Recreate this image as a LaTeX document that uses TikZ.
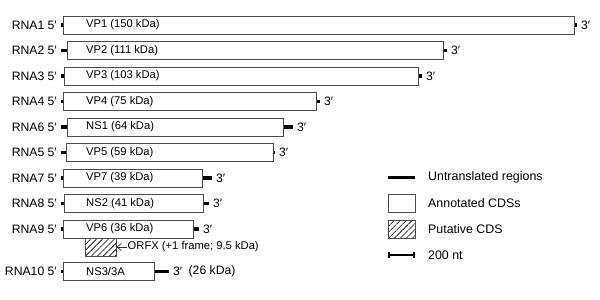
\documentclass[tikz,border=0pt]{standalone}
\usepackage{fontspec}
\setmainfont{Liberation Sans}
\usetikzlibrary{positioning, arrows.meta, patterns.meta}

\begin{document}
\begin{tikzpicture}[
    x=1pt, y=-1pt,
    every node/.style={font=\fontsize{11.2}{13}\selectfont, inner sep=0pt},
    cds/.style={draw=black!70, fill=white, minimum height=18pt, anchor=west},
    orf/.style={draw=black!70, anchor=west, minimum height=18pt,
      pattern={Lines[angle=45,distance=4.2pt,line width=0.6pt]}},
    utr/.style={line width=3.5pt},
    lbl/.style={anchor=west},
    seg/.style={font=\fontsize{12.2}{14}\selectfont},
    key/.style={font=\fontsize{12.4}{15}\selectfont, anchor=west}
  ]
  \useasboundingbox (0,0) rectangle (600,300);
  % genome segments: number / y / CDS start / CDS end / 3' end / protein
  \foreach \n/\y/\a/\b/\c/\p in {
      1/25/63.3/574.3/577/VP1 (150 kDa),
      2/50.5/67/443.3/447/VP2 (111 kDa),
      3/76/64/417.7/422/VP3 (103 kDa),
      4/101.5/62.7/316/320/VP4 (75 kDa),
      6/127/66.7/283.3/293/NS1 (64 kDa),
      5/152.5/65.7/272.7/275/VP5 (59 kDa),
      7/178/63.3/201.7/212/VP7 (39 kDa),
      8/203.5/64/203.3/209/NS2 (41 kDa),
      9/229/63.3/193.3/199/VP6 (36 kDa),
      10/271.5/63.3/154.3/169/{NS3/3A}} {
    \draw[utr] (61,\y) -- (\c,\y);
    \node[cds, minimum width={\b-\a}] (cds\n) at (\a,\y) {};
    \node[lbl] (prot\n) at (86,\y) {\p};
    \node[seg, anchor=east] (rna\n) at (44.5,\y) {RNA\n};
    \node[seg, lbl] (five\n) at (47.5,\y) {5′};
    \node[seg, lbl] (three\n) at (\c+4,\y) {3′};
  }
  \node[seg, right=6pt of three10] (mass10) {(26 kDa)};

  % putative ORF in segment 9
  \node[orf, minimum width=30.7] (orfx) at (85,247) {};
  \node[lbl] (orfxlbl) at (127.5,247) {ORFX (+1 frame; 9.5 kDa)};
  \draw[black!80, line width=0.7pt, -{Straight Barb[length=4.5pt,width=7pt]}]
    ([xshift=-1pt]orfxlbl.west) -- (orfx.east);

  % key
  \draw[utr] (388,177.7) -- (415,177.7);
  \node[key] (keyutr) at (428,177.7) {Untranslated regions};
  \node[cds, minimum width=27] (keycds) at (388,203) {};
  \node[key] (keycdslbl) at (428,203) {Annotated CDSs};
  \node[orf, minimum width=27] (keyorf) at (388,229) {};
  \node[key] (keyorflbl) at (428,229) {Putative CDS};
  \draw[line width=1.6pt, {Bar[width=6pt]}-{Bar[width=6pt]}] (388,255) -- (415,255);
  \node[key] (keybar) at (428,255) {200 nt};
\end{tikzpicture}
\end{document}
